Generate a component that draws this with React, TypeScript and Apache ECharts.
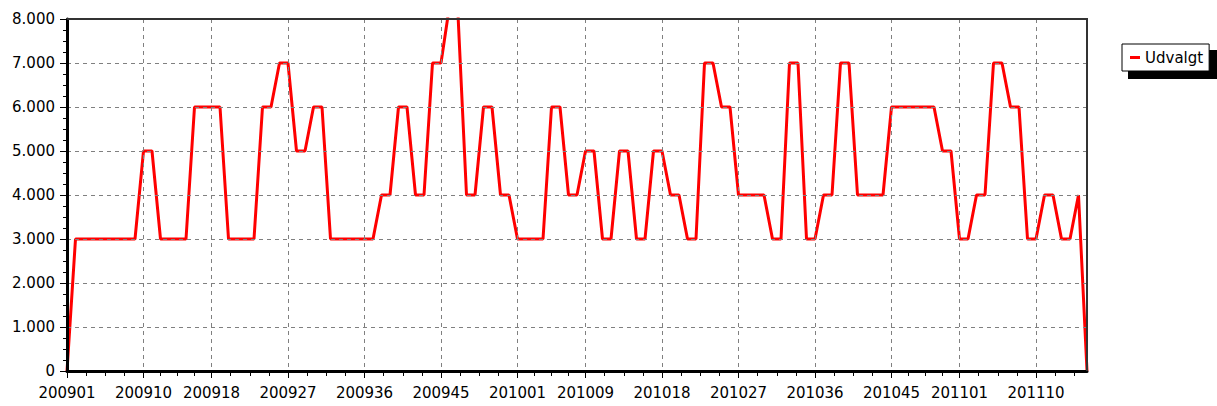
import React, { useEffect, useRef } from "react";
import * as echarts from "echarts";

// Week categories (ISO year+week)
const weeks: string[] = [
  "200901","200902","200903","200904","200905","200906","200907","200908","200909","200910",
  "200911","200912","200913","200914","200915","200916","200917","200918","200919","200920",
  "200921","200922","200923","200924","200925","200926","200927","200928","200929","200930",
  "200931","200932","200933","200934","200935","200936","200937","200938","200939","200940",
  "200941","200942","200943","200944","200945","200946","200947","200948","200949","200950",
  "200951","200952","200953",
  "201001","201002","201003","201004","201005","201006","201007","201008","201009","201010",
  "201011","201012","201013","201014","201015","201016","201017","201018","201019","201020",
  "201021","201022","201023","201024","201025","201026","201027","201028","201029","201030",
  "201031","201032","201033","201034","201035","201036","201037","201038","201039","201040",
  "201041","201042","201043","201044","201045","201046","201047","201048","201049","201050",
  "201051","201052",
  "201101","201102","201103","201104","201105","201106","201107","201108","201109","201110",
  "201111","201112","201113","201114","201115","201116",
];

// Series "Udvalgt" values per week
const udvalgt: number[] = [
  0, 3000, 3000, 3000, 3000, 3000, 3000, 3000, 3000, 5000,
  5000, 3000, 3000, 3000, 3000, 6000, 6000, 6000, 6000, 3000,
  3000, 3000, 3000, 6000, 6000, 7000, 7000, 5000, 5000, 6000,
  6000, 3000, 3000, 3000, 3000, 3000, 3000, 4000, 4000, 6000,
  6000, 4000, 4000, 7000, 7000, 8300, 8100, 4000, 4000, 6000,
  6000, 4000, 4000,
  3000, 3000, 3000, 3000, 6000, 6000, 4000, 4000, 5000, 5000,
  3000, 3000, 5000, 5000, 3000, 3000, 5000, 5000, 4000, 4000,
  3000, 3000, 7000, 7000, 6000, 6000, 4000, 4000, 4000, 4000,
  3000, 3000, 7000, 7000, 3000, 3000, 4000, 4000, 7000, 7000,
  4000, 4000, 4000, 4000, 6000, 6000, 6000, 6000, 6000, 6000,
  5000, 5000,
  3000, 3000, 4000, 4000, 7000, 7000, 6000, 6000, 3000, 3000,
  4000, 4000, 3000, 3000, 4000, 0,
];

// Week labels shown on the x axis
const shownWeekLabels: string[] = [
  "200901","200910","200918","200927","200936","200945","201001",
  "201009","201018","201027","201036","201045","201101","201110",
];

const yMin = 0;
const yMax = 8000;
const yStep = 1000;
const seriesName = "Udvalgt";

const FONT = "DejaVu Sans";

export default function App() {
  const ref = useRef<HTMLDivElement>(null);

  useEffect(() => {
    if (!ref.current) return;
    const chart = echarts.init(ref.current, null, { renderer: "svg" });

    const isMajor = (_i: number, v: string) => shownWeekLabels.includes(v);
    const majorIdx = shownWeekLabels.map((w) => weeks.indexOf(w));
    const minor: number[] = [];
    for (let i = 0; i < majorIdx.length; i++) {
      const a = majorIdx[i];
      const b = i + 1 < majorIdx.length ? majorIdx[i + 1] : a + 9;
      for (let k = 1; k <= 3; k++) {
        const v = a + ((b - a) * k) / 4;
        if (v <= weeks.length - 1) minor.push(v);
      }
    }

    const fmtY = (v: number) => {
      if (v === 0) return "0";
      const s = String(Math.round(v));
      return s.replace(/\B(?=(\d{3})+(?!\d))/g, ".");
    };

    chart.setOption({
      animation: false,
      backgroundColor: "#ffffff",
      textStyle: { fontFamily: FONT },
      grid: { left: 67, right: 130, top: 19, bottom: 35, containLabel: false },
      legend: {
        show: true,
        left: 1122,
        top: 44,
        orient: "vertical",
        padding: [6, 6, 6, 8],
        itemWidth: 10,
        itemHeight: 3,
        itemGap: 0,
        icon: "rect",
        borderColor: "#000",
        borderWidth: 1,
        backgroundColor: "#fff",
        textStyle: { fontSize: 15, color: "#000", fontFamily: FONT },
        data: [{ name: seriesName, itemStyle: { color: "#ff0000" } }],
      },
      xAxis: [
        {
          type: "category",
          data: weeks,
          boundaryGap: false,
          z: 3,
          axisLine: { show: true, lineStyle: { color: "#000", width: 3 } },
          axisTick: { show: true, interval: isMajor, length: 7, lineStyle: { color: "#000", width: 1 } },
          axisLabel: { interval: isMajor, margin: 14, color: "#000", fontSize: 15, fontFamily: FONT },
          splitLine: { show: true, interval: isMajor, lineStyle: { color: "#808080", type: [4, 4], width: 1 } },
        },
        {
          type: "value",
          min: 0,
          max: weeks.length - 1,
          position: "bottom",
          z: 3,
          axisLine: { show: false },
          axisLabel: { show: false },
          splitLine: { show: false },
          axisTick: { show: true, customValues: minor, length: 5, lineStyle: { color: "#000", width: 1 } },
        },
      ],
      yAxis: {
        type: "value",
        min: yMin,
        max: yMax,
        interval: yStep,
        z: 3,
        axisLine: { show: true, lineStyle: { color: "#000", width: 3 } },
        axisTick: { show: true, length: 7, lineStyle: { color: "#000", width: 1 } },
        minorTick: { show: true, splitNumber: 4, length: 4, lineStyle: { color: "#000", width: 1 } },
        axisLabel: { margin: 12, color: "#000", fontSize: 15, fontFamily: FONT, formatter: fmtY },
        splitLine: { show: true, lineStyle: { color: "#808080", type: [4, 4], width: 1 } },
      },
      series: [
        {
          name: seriesName,
          type: "line",
          xAxisIndex: 0,
          yAxisIndex: 0,
          data: udvalgt,
          symbol: "none",
          z: 1,
          lineStyle: { color: "#ff0000", width: 3 },
          itemStyle: { color: "#ff0000" },
        },
      ],
      graphic: [
        {
          type: "rect",
          z: 100,
          shape: { x: 68, y: 0, width: 1040, height: 17 },
          style: { fill: "#ffffff" },
        },
        {
          type: "polyline",
          z: 101,
          shape: { points: [[67, 19], [1087, 19], [1087, 371]] },
          style: { stroke: "#333333", lineWidth: 2, fill: null },
        },
        {
          type: "rect",
          z: 0,
          shape: { x: 1128, y: 50, width: 89, height: 29 },
          style: { fill: "#000000" },
        },
      ],
    });

    return () => chart.dispose();
  }, []);

  return (
    <div
      ref={ref}
      style={{ position: "fixed", left: 0, top: 0, width: 1217, height: 406, background: "#fff" }}
    />
  );
}
